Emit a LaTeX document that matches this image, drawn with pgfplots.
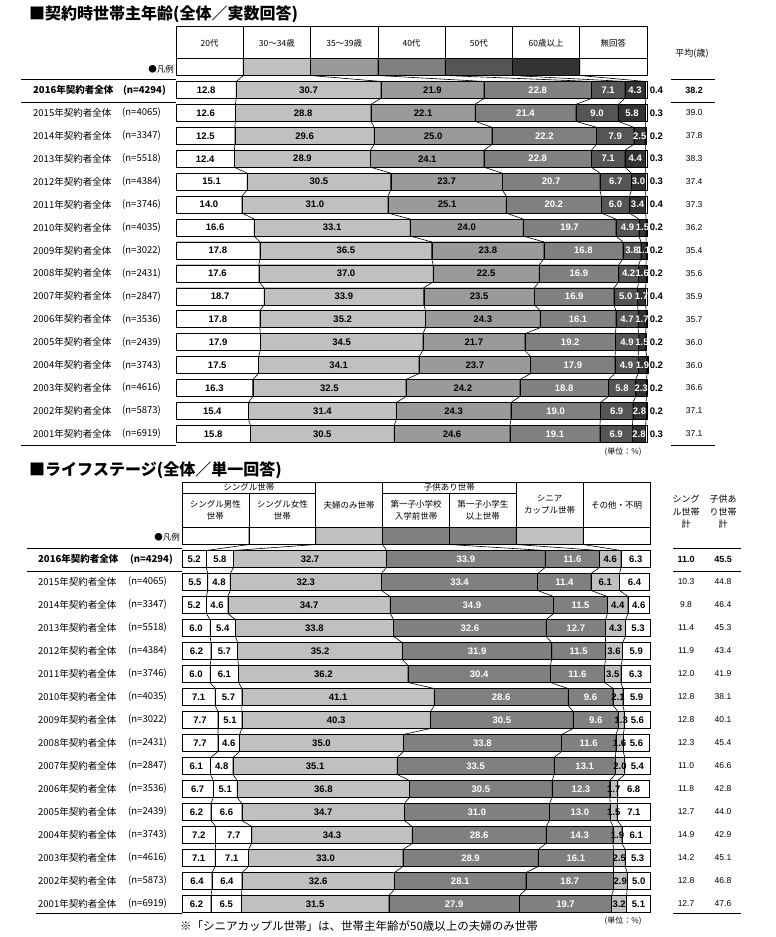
\documentclass[border=0pt]{standalone}
\usepackage{pgfplots}
\pgfplotsset{compat=1.18}
\usepackage{pgfplotstable}
\usepackage{fontspec}
\setmainfont{Noto Sans CJK JP}
\newfontfamily\numf{Liberation Sans}
\definecolor{gA}{HTML}{C0C0C0}
\definecolor{gB}{HTML}{9A9A9A}
\definecolor{gC}{HTML}{808080}
\definecolor{gD}{HTML}{555555}
\definecolor{gE}{HTML}{333333}
\newcommand\nf{\numf\bfseries\fontsize{9.5}{11}\selectfont}
\newcommand\af{\numf\fontsize{8.5}{10}\selectfont}
\newcommand\abf{\numf\bfseries\fontsize{9}{10}\selectfont}
\newcommand\lf{\fontsize{9.5}{11}\selectfont}
\newcommand\lfb{\fontsize{9.5}{11}\selectfont\bfseries}
\newcommand\hf{\fontsize{8.5}{12}\selectfont}

% age of household head at contract (%)
\pgfplotstableread{
r a b c d e f g avg
0 14.2857 14.2857 14.2857 14.2857 14.2857 14.2857 14.2858 0
1 12.8 30.7 21.9 22.8 7.1 4.3 0.4 38.2
2 12.6 28.8 22.1 21.4 9.0 5.8 0.3 39.0
3 12.5 29.6 25.0 22.2 7.9 2.5 0.2 37.8
4 12.4 28.9 24.1 22.8 7.1 4.4 0.3 38.3
5 15.1 30.5 23.7 20.7 6.7 3.0 0.3 37.4
6 14.0 31.0 25.1 20.2 6.0 3.4 0.4 37.3
7 16.6 33.1 24.0 19.7 4.9 1.5 0.2 36.2
8 17.8 36.5 23.8 16.8 3.8 1.1 0.2 35.4
9 17.6 37.0 22.5 16.9 4.2 1.6 0.2 35.6
10 18.7 33.9 23.5 16.9 5.0 1.7 0.4 35.9
11 17.8 35.2 24.3 16.1 4.7 1.7 0.2 35.7
12 17.9 34.5 21.7 19.2 4.9 1.5 0.2 36.0
13 17.5 34.1 23.7 17.9 4.9 1.9 0.2 36.0
14 16.3 32.5 24.2 18.8 5.8 2.3 0.2 36.6
15 15.4 31.4 24.3 19.0 6.9 2.8 0.2 37.1
16 15.8 30.5 24.6 19.1 6.9 2.8 0.3 37.1
}\agetbl

% life stage (%)
\pgfplotstableread{
r a b c d e f g s k
0 14.2857 14.2857 14.2857 14.2857 14.2857 14.2857 14.2858 0 0
1 5.2 5.8 32.7 33.9 11.6 4.6 6.3 11.0 45.5
2 5.5 4.8 32.3 33.4 11.4 6.1 6.4 10.3 44.8
3 5.2 4.6 34.7 34.9 11.5 4.4 4.6 9.8 46.4
4 6.0 5.4 33.8 32.6 12.7 4.3 5.3 11.4 45.3
5 6.2 5.7 35.2 31.9 11.5 3.6 5.9 11.9 43.4
6 6.0 6.1 36.2 30.4 11.6 3.5 6.3 12.0 41.9
7 7.1 5.7 41.1 28.6 9.6 2.1 5.9 12.8 38.1
8 7.7 5.1 40.3 30.5 9.6 1.3 5.6 12.8 40.1
9 7.7 4.6 35.0 33.8 11.6 1.6 5.6 12.3 45.4
10 6.1 4.8 35.1 33.5 13.1 2.0 5.4 11.0 46.6
11 6.7 5.1 36.8 30.5 12.3 1.7 6.8 11.8 42.8
12 6.2 6.6 34.7 31.0 13.0 1.5 7.1 12.7 44.0
13 7.2 7.7 34.3 28.6 14.3 1.9 6.1 14.9 42.9
14 7.1 7.1 33.0 28.9 16.1 2.5 5.3 14.2 45.1
15 6.4 6.4 32.6 28.1 18.7 2.9 5.0 12.8 46.8
16 6.2 6.5 31.5 27.9 19.7 3.2 5.1 12.7 47.6
}\lifetbl

\newcommand\addcum[1]{%
 \pgfplotstablecreatecol[create col/expr={\thisrow{a}}]{c1}#1%
 \pgfplotstablecreatecol[create col/expr={\thisrow{c1}+\thisrow{b}}]{c2}#1%
 \pgfplotstablecreatecol[create col/expr={\thisrow{c2}+\thisrow{c}}]{c3}#1%
 \pgfplotstablecreatecol[create col/expr={\thisrow{c3}+\thisrow{d}}]{c4}#1%
 \pgfplotstablecreatecol[create col/expr={\thisrow{c4}+\thisrow{e}}]{c5}#1%
 \pgfplotstablecreatecol[create col/expr={\thisrow{c5}+\thisrow{f}}]{c6}#1%
 \pgfplotstablecreatecol[create col/expr={\thisrow{c6}+\thisrow{g}}]{c7}#1%
 \pgfplotstablecreatecol[create col/expr={\thisrow{c1}-0.5*\thisrow{a}}]{m1}#1%
 \pgfplotstablecreatecol[create col/expr={\thisrow{c2}-0.5*\thisrow{b}}]{m2}#1%
 \pgfplotstablecreatecol[create col/expr={\thisrow{c3}-0.5*\thisrow{c}}]{m3}#1%
 \pgfplotstablecreatecol[create col/expr={\thisrow{c4}-0.5*\thisrow{d}}]{m4}#1%
 \pgfplotstablecreatecol[create col/expr={\thisrow{c5}-0.5*\thisrow{e}}]{m5}#1%
 \pgfplotstablecreatecol[create col/expr={\thisrow{c6}-0.5*\thisrow{f}}]{m6}#1%
 \pgfplotstablecreatecol[create col/expr={\thisrow{c7}-0.5*\thisrow{g}}]{m7}#1%
}
\addcum\agetbl
\addcum\lifetbl

% zigzag connector through segment boundaries of consecutive bars
\newcommand\buildconn[4]{%
  \gdef#1{}%
  \pgfplotsforeachungrouped \rr in {0,...,16}{%
    \pgfplotstablegetelem{\rr}{#3}\of#2%
    \let\cv\pgfplotsretval
    \pgfmathsetmacro\yt{\rr-#4}%
    \pgfmathsetmacro\yb{\rr+#4}%
    \xdef#1{#1 (\cv,\yt) (\cv,\yb)}%
  }}
\buildconn\aA\agetbl{c1}{0.3707}
\buildconn\aB\agetbl{c2}{0.3707}
\buildconn\aC\agetbl{c3}{0.3707}
\buildconn\aD\agetbl{c4}{0.3707}
\buildconn\aE\agetbl{c5}{0.3707}
\buildconn\aF\agetbl{c6}{0.3707}
\buildconn\lA\lifetbl{c1}{0.3696}
\buildconn\lB\lifetbl{c2}{0.3696}
\buildconn\lC\lifetbl{c3}{0.3696}
\buildconn\lD\lifetbl{c4}{0.3696}
\buildconn\lE\lifetbl{c5}{0.3696}
\buildconn\lF\lifetbl{c6}{0.3696}
\newcommand\drawconn[1]{\edef\tmp{\noexpand\addplot[black, line width=0.6pt, mark=none] coordinates {#1};}\tmp}

\pgfplotsset{
  mybar/.style={xbar, bar width=17pt, bar shift=0pt, draw=black, line width=0.5pt, fill=#1},
  lbl/.style={only marks, mark=none, point meta=explicit symbolic,
     nodes near coords={\pgfplotspointmeta},
     skip coords between index={0}{1},
     every node near coord/.append style={anchor=center, inner sep=0pt, font=\nf, text=#1}},
}

\begin{document}
\begin{tikzpicture}[x=1pt,y=1pt]
\useasboundingbox (0,0) rectangle (776,-937);

% ---------- titles ----------
\node[anchor=west, inner sep=0, font=\fontsize{16}{18}\selectfont\bfseries] at (29,-14) {■契約時世帯主年齢(全体／実数回答)};
\node[anchor=west, inner sep=0, font=\fontsize{16}{18}\selectfont\bfseries] at (29,-470) {■ライフステージ(全体／単一回答)};

% ---------- top header ----------
\foreach \xa/\xb/\t in {176/243.29/20代, 243.29/310.57/30～34歳, 310.57/377.86/35～39歳, 377.86/445.14/40代, 445.14/512.43/50代, 512.43/579.71/60歳以上, 579.71/647/無回答}{
  \draw[line width=0.6pt] (\xa,-26) rectangle (\xb,-58.5);
  \node[font=\hf] at ({(\xa+\xb)/2},-43) {\t};
}
\node[anchor=east, font=\hf, inner sep=1pt] at (175,-69) {●凡例};
\node[font=\fontsize{9}{11}\selectfont] at (692,-54) {平均(歳)};

% ---------- top row labels ----------
\node[anchor=west, font=\lfb, inner sep=0] at (33,-90) {2016年契約者全体};
\node[anchor=east, font=\lfb, inner sep=0] at (166,-90) {(n=4294)};
\foreach \yr/\nn [count=\i from 2] in {2015/4065,2014/3347,2013/5518,2012/4384,2011/3746,2010/4035,2009/3022,2008/2431,2007/2847,2006/3536,2005/2439,2004/3743,2003/4616,2002/5873,2001/6919}{
  \node[anchor=west, font=\lf, inner sep=0] at (33,{-67-22.93*\i}) {\yr 年契約者全体};
  \node[anchor=east, font=\lf, inner sep=0] at (161,{-67-22.93*\i}) {(n=\nn)};
}
\draw[line width=1pt] (21,-79)--(176,-79) (21,-102)--(176,-102) (21,-445)--(176,-445);
\draw[line width=1pt] (671,-79)--(715,-79) (671,-102)--(715,-102) (671,-445)--(715,-445);
\node[anchor=east, font=\fontsize{8}{10}\selectfont] at (645,-452) {(単位：\%)};

% ---------- top chart ----------
\begin{axis}[
  at={(176pt,-67pt)}, anchor=origin,
  x=4.71pt, y=22.93pt, y dir=reverse,
  xmin=0, xmax=100, ymin=-0.6, ymax=16.6,
  hide axis, clip=false]
\addplot[mybar=white] table[x=c7, y=r]{\agetbl};
\addplot[mybar=gE] table[x=c6, y=r]{\agetbl};
\addplot[mybar=gD] table[x=c5, y=r]{\agetbl};
\addplot[mybar=gC] table[x=c4, y=r]{\agetbl};
\addplot[mybar=gB] table[x=c3, y=r]{\agetbl};
\addplot[mybar=gA] table[x=c2, y=r]{\agetbl};
\addplot[mybar=white] table[x=c1, y=r]{\agetbl};
\drawconn\aA \drawconn\aB \drawconn\aC \drawconn\aD \drawconn\aE \drawconn\aF
\addplot[lbl=black] table[x=m1, y=r, meta=a]{\agetbl};
\addplot[lbl=black] table[x=m2, y=r, meta=b]{\agetbl};
\addplot[lbl=black] table[x=m3, y=r, meta=c]{\agetbl};
\addplot[lbl=white] table[x=m4, y=r, meta=d]{\agetbl};
\addplot[lbl=white] table[x=m5, y=r, meta=e]{\agetbl};
\addplot[lbl=white] table[x=m6, y=r, meta=f]{\agetbl};
\addplot[lbl=black] table[x expr=102, y=r, meta=g]{\agetbl};
\addplot[lbl=black, skip coords between index={2}{17}, every node near coord/.append style={font=\abf}] table[x expr=110, y=r, meta=avg]{\agetbl};
\addplot[lbl=black, skip coords between index={0}{2}, every node near coord/.append style={font=\af}] table[x expr=110, y=r, meta=avg]{\agetbl};
\end{axis}

% ---------- bottom header ----------
\begin{scope}[line width=0.6pt]
\draw (182,-482) rectangle (315.71,-493);
\node[font=\hf] at (248.86,-487.5) {シングル世帯};
\draw (382.57,-482) rectangle (516.29,-493);
\node[font=\hf] at (449.43,-487.5) {子供あり世帯};
\foreach \xa/\xb/\t in {182/248.86/{シングル男性\\世帯}, 248.86/315.71/{シングル女性\\世帯}, 382.57/449.43/{第一子小学校\\入学前世帯}, 449.43/516.29/{第一子小学生\\以上世帯}}{
  \draw (\xa,-493) rectangle (\xb,-527.5);
  \node[font=\hf, align=center] at ({(\xa+\xb)/2},-510.5) {\t};
}
\foreach \xa/\xb/\t in {315.71/382.57/{夫婦のみ世帯}, 516.29/583.14/{シニア\\カップル世帯}, 583.14/650/{その他・不明}}{
  \draw (\xa,-482) rectangle (\xb,-527.5);
  \node[font=\hf, align=center] at ({(\xa+\xb)/2},-505) {\t};
}
\end{scope}
\node[anchor=east, font=\hf, inner sep=1pt] at (181,-537) {●凡例};
\node[font=\fontsize{9}{12.5}\selectfont, align=center] at (686,-512) {シング\\ル世帯\\計};
\node[font=\fontsize{9}{12.5}\selectfont, align=center] at (723,-512) {子供あ\\り世帯\\計};

% ---------- bottom row labels ----------
\node[anchor=west, font=\lfb, inner sep=0] at (38,-559) {2016年契約者全体};
\node[anchor=east, font=\lfb, inner sep=0] at (173,-559) {(n=4294)};
\foreach \yr/\nn [count=\i from 2] in {2015/4065,2014/3347,2013/5518,2012/4384,2011/3746,2010/4035,2009/3022,2008/2431,2007/2847,2006/3536,2005/2439,2004/3743,2003/4616,2002/5873,2001/6919}{
  \node[anchor=west, font=\lf, inner sep=0] at (38,{-536-23*\i}) {\yr 年契約者全体};
  \node[anchor=east, font=\lf, inner sep=0] at (167,{-536-23*\i}) {(n=\nn)};
}
\draw[line width=1pt] (27,-548)--(182,-548) (27,-571)--(182,-571) (36,-913)--(182,-913);
\draw[line width=1pt] (673,-548)--(741,-548) (673,-571)--(741,-571) (673,-913)--(741,-913);
\node[anchor=east, font=\fontsize{8}{10}\selectfont] at (645,-921) {(単位：\%)};
\node[anchor=west, font=\fontsize{11.5}{13}\selectfont, inner sep=0] at (180,-926) {※「シニアカップル世帯」は、世帯主年齢が50歳以上の夫婦のみ世帯};

% ---------- bottom chart ----------
\begin{axis}[
  at={(182pt,-536pt)}, anchor=origin,
  x=4.68pt, y=23pt, y dir=reverse,
  xmin=0, xmax=100, ymin=-0.6, ymax=16.6,
  hide axis, clip=false]
\addplot[mybar=white] table[x=c7, y=r]{\lifetbl};
\addplot[mybar=gA] table[x=c6, y=r]{\lifetbl};
\addplot[mybar=gC] table[x=c5, y=r]{\lifetbl};
\addplot[mybar=gC] table[x=c4, y=r]{\lifetbl};
\addplot[mybar=gA] table[x=c3, y=r]{\lifetbl};
\addplot[mybar=white] table[x=c2, y=r]{\lifetbl};
\addplot[mybar=white] table[x=c1, y=r]{\lifetbl};
\drawconn\lA \drawconn\lB \drawconn\lC \drawconn\lD \drawconn\lE \drawconn\lF
\addplot[lbl=black] table[x=m1, y=r, meta=a]{\lifetbl};
\addplot[lbl=black] table[x=m2, y=r, meta=b]{\lifetbl};
\addplot[lbl=black] table[x=m3, y=r, meta=c]{\lifetbl};
\addplot[lbl=white] table[x=m4, y=r, meta=d]{\lifetbl};
\addplot[lbl=white] table[x=m5, y=r, meta=e]{\lifetbl};
\addplot[lbl=black] table[x=m6, y=r, meta=f]{\lifetbl};
\addplot[lbl=black] table[x=m7, y=r, meta=g]{\lifetbl};
\addplot[lbl=black, skip coords between index={2}{17}, every node near coord/.append style={font=\abf}] table[x expr=107.7, y=r, meta=s]{\lifetbl};
\addplot[lbl=black, skip coords between index={0}{2}, every node near coord/.append style={font=\af}] table[x expr=107.7, y=r, meta=s]{\lifetbl};
\addplot[lbl=black, skip coords between index={2}{17}, every node near coord/.append style={font=\abf}] table[x expr=115.6, y=r, meta=k]{\lifetbl};
\addplot[lbl=black, skip coords between index={0}{2}, every node near coord/.append style={font=\af}] table[x expr=115.6, y=r, meta=k]{\lifetbl};
\end{axis}
\end{tikzpicture}
\end{document}
